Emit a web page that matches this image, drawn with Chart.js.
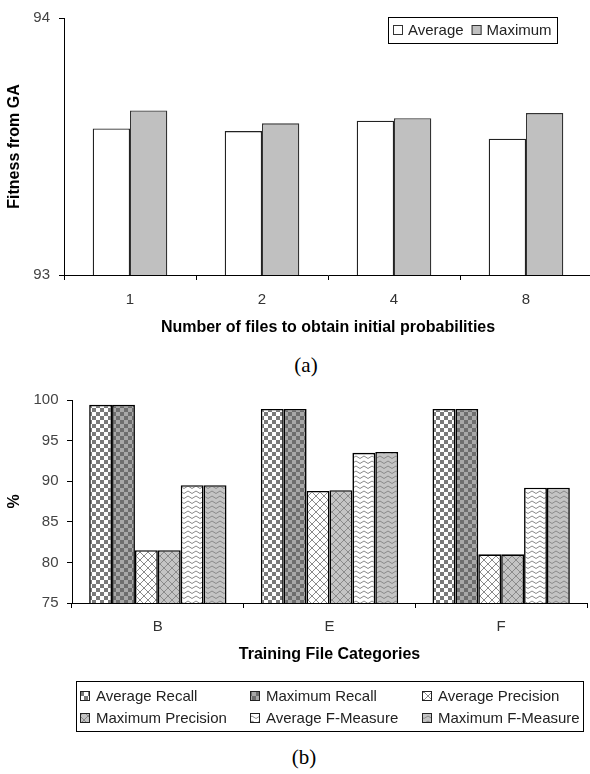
<!DOCTYPE html>
<html><head><meta charset="utf-8">
<script src="https://cdn.jsdelivr.net/npm/chart.js@4.4.0/dist/chart.umd.min.js"></script>
<style>
html,body{margin:0;padding:0;background:#fff;}
#wrap{position:relative;width:590px;height:774px;overflow:hidden;background:#fff;}
canvas{position:absolute;left:0;}
.cap{position:absolute;font-family:"Liberation Serif","Times New Roman",serif;font-size:21px;color:#000;transform:translate(-50%,-50%);white-space:nowrap;}
</style></head><body>
<div id="wrap">
<canvas id="ca" width="595" height="345" style="top:0"></canvas>
<div class="cap" style="left:306px;top:365px">(a)</div>
<canvas id="cb" width="595" height="360" style="top:380px"></canvas>
<div class="cap" style="left:304px;top:757px">(b)</div>
</div>
<script>
// ---- data (a) ----
const fileCounts = ['1', '2', '4', '8'];
const fitnessAverage = [93.57, 93.56, 93.60, 93.53];
const fitnessMaximum = [93.64, 93.59, 93.61, 93.63];
const fitnessTicks = [93, 94];
const seriesNamesA = ['Average', 'Maximum'];
const axisTitlesA = ['Number of files to obtain initial probabilities', 'Fitness from GA'];

// ---- data (b) ----
const trainingCategories = ['B', 'E', 'F'];
const averageRecall = [99.4, 98.9, 98.9];
const maximumRecall = [99.4, 98.9, 98.9];
const averagePrecision = [81.5, 88.8, 81.0];
const maximumPrecision = [81.5, 88.9, 81.0];
const averageFMeasure = [89.5, 93.5, 89.2];
const maximumFMeasure = [89.5, 93.6, 89.2];
const percentTicks = [75, 80, 85, 90, 95, 100];
const seriesNamesB = ['Average Recall', 'Maximum Recall', 'Average Precision', 'Maximum Precision', 'Average F-Measure', 'Maximum F-Measure'];
const axisTitlesB = ['Training File Categories', '%'];

const FONT = '"Liberation Sans", Arial, sans-serif';
Chart.defaults.font.family = FONT;
Chart.defaults.color = '#333';

// ---- patterns ----
const ctxB = document.getElementById('cb').getContext('2d');
function tile(w, h, draw) {
  const c = document.createElement('canvas');
  c.width = w; c.height = h;
  const g = c.getContext('2d');
  draw(g, w, h);
  return ctxB.createPattern(c, 'repeat');
}
function checker(a, b, s) {
  return tile(2 * s, 2 * s, g => {
    g.fillStyle = a; g.fillRect(0, 0, 2 * s, 2 * s);
    g.fillStyle = b; g.fillRect(0, 0, s, s); g.fillRect(s, s, s, s);
  });
}
function lattice(bg, fg) {
  return tile(8, 8, g => {
    g.fillStyle = bg; g.fillRect(0, 0, 8, 8);
    g.strokeStyle = fg; g.lineWidth = 1;
    g.beginPath(); g.moveTo(-1, -1); g.lineTo(9, 9); g.moveTo(9, -1); g.lineTo(-1, 9); g.stroke();
  });
}
function wave(bg, fg) {
  return tile(8, 5, g => {
    g.fillStyle = bg; g.fillRect(0, 0, 8, 5);
    g.strokeStyle = fg; g.lineWidth = 1;
    g.beginPath(); g.moveTo(0, 3.5); g.lineTo(4, 1); g.lineTo(8, 3.5); g.stroke();
  });
}
const fillsB = [
  checker('#ffffff', '#7a7a7a', 4),
  checker('#a8a8a8', '#6e6e6e', 4),
  lattice('#ffffff', '#8a8a8a'),
  lattice('#c4c4c4', '#8a8a8a'),
  wave('#ffffff', '#8a8a8a'),
  wave('#c4c4c4', '#8a8a8a')
];

// ---- legend plugins ----
const legendA = {
  id: 'legendA',
  afterDraw(chart) {
    const { ctx, chartArea } = chart;
    const ds = chart.data.datasets;
    ctx.save();
    ctx.font = '15px ' + FONT;
    const sw = 10, g1 = 5, g2 = 8, pad = 5, h = 26;
    const widths = ds.map(d => ctx.measureText(d.label).width);
    let total = pad * 2 + g2 * (ds.length - 1);
    widths.forEach(w => total += sw + g1 + w);
    const right = chartArea.right - 35;
    const left = Math.round(right - total);
    const top = Math.round(chartArea.top - 1);
    ctx.fillStyle = '#fff'; ctx.fillRect(left, top, total, h);
    ctx.strokeStyle = '#000'; ctx.lineWidth = 1;
    ctx.strokeRect(left + 0.5, top + 0.5, Math.round(total), h);
    let x = left + pad;
    const cy = top + h / 2;
    ds.forEach((d, i) => {
      ctx.fillStyle = d.backgroundColor;
      ctx.fillRect(x, cy - 5, sw, sw);
      ctx.strokeStyle = '#333';
      ctx.strokeRect(x + 0.5, cy - 4.5, sw - 1, sw - 1);
      ctx.fillStyle = '#222'; ctx.textBaseline = 'middle'; ctx.textAlign = 'left';
      ctx.fillText(d.label, x + sw + g1, cy + 1);
      x += sw + g1 + widths[i] + g2;
    });
    ctx.restore();
  }
};
const legendB = {
  id: 'legendB',
  afterDraw(chart) {
    const { ctx, chartArea } = chart;
    const ds = chart.data.datasets;
    ctx.save();
    const left = Math.round(chartArea.left + 4), right = Math.round(chartArea.right - 4);
    const top = Math.round(chartArea.bottom + 78), h = 50;
    ctx.strokeStyle = '#000'; ctx.lineWidth = 1;
    ctx.strokeRect(left + 0.5, top + 0.5, right - left, h);
    const cols = [4, 174, 346], rows = [15, 37];
    ctx.font = '15px ' + FONT;
    ds.forEach((d, i) => {
      const x = left + cols[i % 3], cy = top + rows[Math.floor(i / 3)];
      ctx.fillStyle = d.backgroundColor;
      ctx.fillRect(x, cy - 5, 10, 10);
      ctx.strokeStyle = '#222';
      ctx.strokeRect(x + 0.5, cy - 4.5, 9, 9);
      ctx.fillStyle = '#222'; ctx.textBaseline = 'middle'; ctx.textAlign = 'left';
      ctx.fillText(d.label, x + 16, cy + 1);
    });
    ctx.restore();
  }
};

function axisCommon() {
  return {
    border: { display: true, color: '#000', width: 1 },
  };
}

// ---- chart (a) ----
new Chart(document.getElementById('ca'), {
  type: 'bar',
  data: {
    labels: fileCounts,
    datasets: [
      { label: seriesNamesA[0], data: fitnessAverage, backgroundColor: '#ffffff', borderColor: '#222', borderWidth: 1.3, borderSkipped: 'start' },
      { label: seriesNamesA[1], data: fitnessMaximum, backgroundColor: '#c0c0c0', borderColor: '#333', borderWidth: 1.3, borderSkipped: 'start' }
    ]
  },
  options: {
    responsive: false, animation: false, devicePixelRatio: 1,
    layout: { padding: { top: 13, right: 3, bottom: 7.4, left: 0 } },
    datasets: { bar: { categoryPercentage: 0.565, barPercentage: 1 } },
    plugins: { legend: { display: false }, tooltip: { enabled: false } },
    scales: {
      x: {
        border: { color: '#000', width: 1 },
        grid: { offset: true, drawOnChartArea: false, drawTicks: true, tickLength: 5, color: '#000' },
        ticks: { padding: 11, font: { size: 15 }, color: '#333', maxRotation: 0 },
        title: { display: true, text: axisTitlesA[0], font: { size: 16, weight: 'bold' }, color: '#000', padding: { top: 0, bottom: 0 } },
        afterFit: s => { s.height = 62.6; }
      },
      y: {
        min: fitnessTicks[0], max: fitnessTicks[fitnessTicks.length - 1],
        afterBuildTicks: s => { s.ticks = fitnessTicks.map(v => ({ value: v })); },
        border: { color: '#000', width: 1 },
        grid: { drawOnChartArea: false, drawTicks: true, tickLength: 5, color: '#000' },
        ticks: { padding: 9, font: { size: 15 }, color: '#444' },
        title: { display: true, text: axisTitlesA[1], font: { size: 16, weight: 'bold' }, color: '#000', padding: { top: 5, bottom: 0 } },
        afterFit: s => { s.width = 64; }
      }
    }
  },
  plugins: [legendA]
});

// ---- chart (b) ----
const seriesB = [averageRecall, maximumRecall, averagePrecision, maximumPrecision, averageFMeasure, maximumFMeasure];
new Chart(document.getElementById('cb'), {
  type: 'bar',
  data: {
    labels: trainingCategories,
    datasets: seriesB.map((vals, i) => ({
      label: seriesNamesB[i], data: vals, backgroundColor: fillsB[i],
      borderColor: '#000', borderWidth: 1.6, borderSkipped: 'start'
    }))
  },
  options: {
    responsive: false, animation: false, devicePixelRatio: 1,
    layout: { padding: { top: 20, right: 8, bottom: 75.4, left: 0 } },
    datasets: { bar: { categoryPercentage: 0.8, barPercentage: 1 } },
    plugins: { legend: { display: false }, tooltip: { enabled: false } },
    scales: {
      x: {
        border: { color: '#000', width: 1 },
        grid: { offset: true, drawOnChartArea: false, drawTicks: true, tickLength: 5, color: '#000' },
        ticks: { padding: 10, font: { size: 15 }, color: '#333', maxRotation: 0 },
        title: { display: true, text: axisTitlesB[0], font: { size: 16, weight: 'bold' }, color: '#000', padding: { top: 0, bottom: 0 } },
        afterFit: s => { s.height = 61.6; }
      },
      y: {
        min: percentTicks[0], max: percentTicks[percentTicks.length - 1],
        afterBuildTicks: s => { s.ticks = percentTicks.map(v => ({ value: v })); },
        border: { color: '#000', width: 1 },
        grid: { drawOnChartArea: false, drawTicks: true, tickLength: 5, color: '#000' },
        ticks: { padding: 8.5, font: { size: 15 }, color: '#444' },
        title: { display: true, text: axisTitlesB[1], font: { size: 16, weight: 'bold' }, color: '#000', padding: { top: 5, bottom: 0 } },
        afterFit: s => { s.width = 72; }
      }
    }
  },
  plugins: [legendB]
});
</script>
</body></html>
